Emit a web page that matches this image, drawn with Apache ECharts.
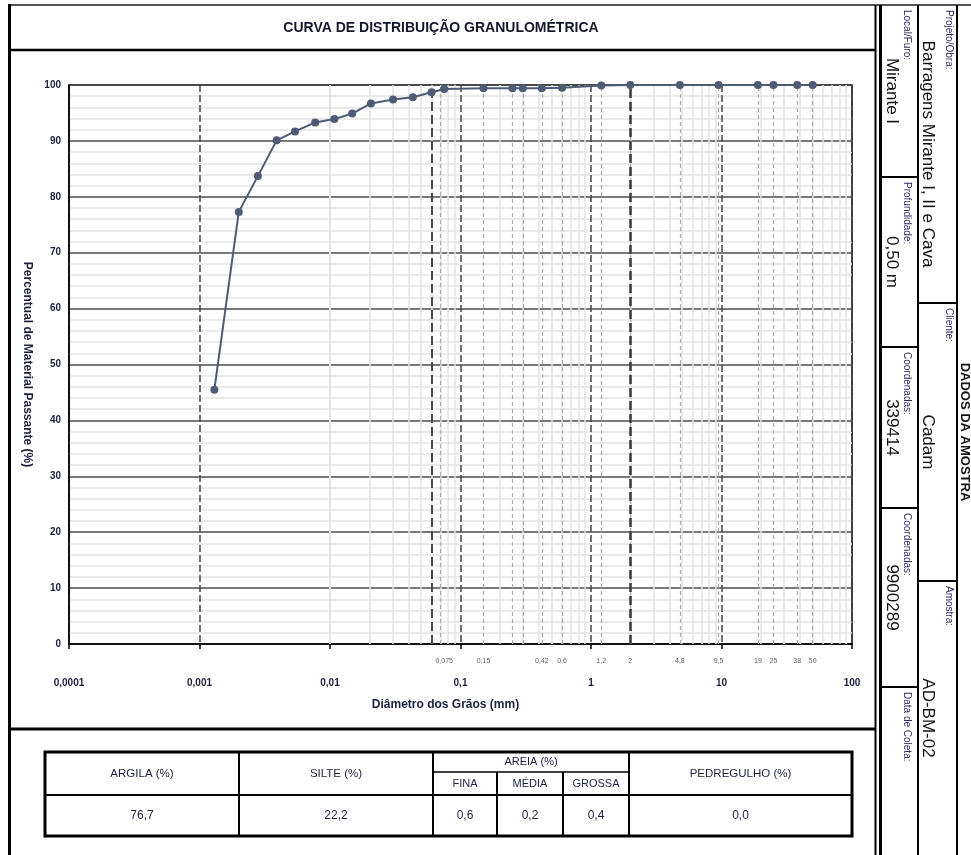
<!DOCTYPE html>
<html>
<head>
<meta charset="utf-8">
<title>Curva de distribuição granulométrica</title>
<script src="https://cdn.jsdelivr.net/npm/echarts@6.0.0/dist/echarts.min.js"></script>
<style>
  html, body { margin: 0; padding: 0; background: #fff; }
  #grafico { width: 971px; height: 855px; }
</style>
</head>
<body>
<div id="grafico"></div>
<script>
// ensaio de granulometria - amostra AD-BM-02
const diametros = [0.0013, 0.0020, 0.0028, 0.0039, 0.0054, 0.0077, 0.0108, 0.0148, 0.0206, 0.0304, 0.0431, 0.060,
  0.075, 0.15, 0.25, 0.30, 0.42, 0.6, 1.2, 2, 4.8, 9.5, 19, 25, 38, 50]
const passante = [45.5, 77.3, 83.7, 90.1, 91.7, 93.3, 93.9, 94.9, 96.7, 97.4, 97.8, 98.7,
  99.3, 99.4, 99.4, 99.4, 99.4, 99.5, 99.9, 100, 100, 100, 100, 100, 100, 100]

// peneiras (linhas tracejadas) e as que recebem rótulo
const peneiras = [0.075, 0.15, 0.25, 0.3, 0.42, 0.6, 1.2, 2, 4.8, 9.5, 19, 25, 38, 50]
const peneirasRotulo = [0.075, 0.15, 0.42, 0.6, 1.2, 2, 4.8, 9.5, 19, 25, 38, 50]
// limites argila / silte / areia / pedregulho
const limites = [0.002, 0.06, 2]

// tabela de frações
const fracoes = ['ARGILA (%)', 'SILTE (%)', 'AREIA (%)', 'PEDREGULHO (%)']
const subAreia = ['FINA', 'MÉDIA', 'GROSSA']
const percentuais = ['76,7', '22,2', '0,6', '0,2', '0,4', '0,0']

// dados da amostra
const camposRotulo = ['Projeto/Obra:', 'Local/Furo:', 'Profundidade:', 'Cliente:', 'Coordenadas:', 'Coordenadas:', 'Amostra:', 'Data de Coleta:']
const camposValor = ['Barragens Mirante I, II e Cava', 'Mirante I', '0,50 m', 'Cadam', '339414', '9900289', 'AD-BM-02', '']

const corTexto = '#1c1f3d'
const fonte = '"Liberation Sans", Arial, sans-serif'

const virgula = (v) => String(parseFloat(Number(v).toPrecision(6))).replace('.', ',')

// grade menor do eixo log (2..9 de cada década)
const linhasMenores = []
for (let e = -4; e < 2; e++) {
  for (let m = 2; m <= 9; m++) linhasMenores.push(m * Math.pow(10, e))
}

// ---- moldura, tabela e bloco lateral ----
const graficos = []
const linha = (x1, y1, x2, y2, w, cor) => graficos.push({
  type: 'line', silent: true, z: 10,
  shape: { x1, y1, x2, y2 },
  style: { stroke: cor || '#000', lineWidth: w }
})
const texto = (x, y, t, opts) => graficos.push(Object.assign({
  type: 'text', silent: true, z: 11, x, y,
  style: Object.assign({
    text: t, fill: corTexto, fontFamily: fonte, fontSize: 12,
    textAlign: 'center', textVerticalAlign: 'middle'
  }, opts.style || {})
}, opts.rotation ? { rotation: opts.rotation } : {}))

// moldura
linha(9, 5, 971, 5, 2, '#555')
linha(9.5, 4, 9.5, 855, 3)
linha(9, 50, 876, 50, 2.5)
linha(9, 729, 876, 729, 3)
linha(875.5, 5, 875.5, 855, 2)
linha(880.5, 5, 880.5, 855, 3)
linha(918, 5, 918, 855, 2)
linha(957, 5, 957, 855, 2)

texto(441, 28, 'CURVA DE DISTRIBUIÇÃO GRANULOMÉTRICA', { style: { fontSize: 14, fontWeight: 'bold', fill: '#14162e' } })

// bloco lateral
const celulas = [
  { col: 1, y0: 5, y1: 303 }, { col: 0, y0: 5, y1: 177 }, { col: 0, y0: 177, y1: 347 }, { col: 1, y0: 303, y1: 581 },
  { col: 0, y0: 347, y1: 508 }, { col: 0, y0: 508, y1: 687 }, { col: 1, y0: 581, y1: 855 }, { col: 0, y0: 687, y1: 855 }
]
const colX = [[882, 918], [918, 957]]
const rotX = [907, 949]
const valX = [891.5, 928]
celulas.forEach((c, i) => {
  if (c.y1 < 855) linha(colX[c.col][0], c.y1, colX[c.col][1], c.y1, 2)
  texto(rotX[c.col], c.y0 + 5, camposRotulo[i], {
    rotation: -Math.PI / 2,
    style: { fontSize: 10, textAlign: 'left', fill: '#2e2a63' }
  })
  if (camposValor[i]) {
    texto(valX[c.col], (c.y0 + c.y1) / 2, camposValor[i], {
      rotation: -Math.PI / 2,
      style: { fontSize: 17, fill: '#111' }
    })
  }
})
texto(965, 432, 'DADOS DA AMOSTRA', { rotation: -Math.PI / 2, style: { fontSize: 13, fontWeight: 'bold', fill: '#111' } })

// tabela de frações
const tabX = [45, 239, 433, 497, 563, 629, 852]
const tabY = [752, 772, 795, 836]
graficos.push({
  type: 'rect', silent: true, z: 10,
  shape: { x: tabX[0], y: tabY[0], width: tabX[6] - tabX[0], height: tabY[3] - tabY[0] },
  style: { fill: 'none', stroke: '#000', lineWidth: 3 }
})
linha(tabX[1], tabY[0], tabX[1], tabY[3], 2)
linha(tabX[2], tabY[0], tabX[2], tabY[3], 2)
linha(tabX[5], tabY[0], tabX[5], tabY[3], 2)
linha(tabX[3], tabY[1], tabX[3], tabY[3], 2)
linha(tabX[4], tabY[1], tabX[4], tabY[3], 2)
linha(tabX[0], tabY[2], tabX[6], tabY[2], 2)
linha(tabX[2], tabY[1], tabX[5], tabY[1], 1.5)

const meio = (a, b) => (a + b) / 2
const cabY = meio(tabY[0], tabY[2])
texto(meio(tabX[0], tabX[1]), cabY, fracoes[0], { style: { fontSize: 11.5 } })
texto(meio(tabX[1], tabX[2]), cabY, fracoes[1], { style: { fontSize: 11.5 } })
texto(meio(tabX[2], tabX[5]), meio(tabY[0], tabY[1]), fracoes[2], { style: { fontSize: 11 } })
texto(meio(tabX[5], tabX[6]), cabY, fracoes[3], { style: { fontSize: 11.5 } })
subAreia.forEach((s, i) => {
  texto(meio(tabX[2 + i], tabX[3 + i]), meio(tabY[1], tabY[2]), s, { style: { fontSize: 11 } })
})
const valColX = [meio(tabX[0], tabX[1]), meio(tabX[1], tabX[2]), meio(tabX[2], tabX[3]),
  meio(tabX[3], tabX[4]), meio(tabX[4], tabX[5]), meio(tabX[5], tabX[6])]
percentuais.forEach((p, i) => {
  texto(valColX[i], meio(tabY[2], tabY[3]), p, { style: { fontSize: 12 } })
})

// ---- gráfico ----
const chart = echarts.init(document.getElementById('grafico'))

const option = {
  animation: false,
  grid: {
    left: 69, top: 85, right: 119, bottom: 211,
    show: true, borderColor: '#000', borderWidth: 1.5, backgroundColor: '#fff'
  },
  xAxis: {
    type: 'log', logBase: 10, min: 0.0001, max: 100, splitNumber: 6,
    name: 'Diâmetro dos Grãos (mm)', nameLocation: 'middle', nameGap: 55,
    nameTextStyle: { fontFamily: fonte, fontWeight: 'bold', fontSize: 12, color: corTexto, padding: [0, 30, 0, 0] },
    axisLine: { lineStyle: { color: '#000', width: 1.5 } },
    axisTick: { show: true, length: 5, lineStyle: { color: '#000', width: 1.5 } },
    axisLabel: {
      margin: 34, fontFamily: fonte, fontWeight: 'bold', fontSize: 10, color: corTexto,
      formatter: (v) => virgula(v)
    },
    splitLine: { show: true, lineStyle: { color: '#444', width: 1.5, type: [7, 3] } }
  },
  yAxis: {
    type: 'value', min: 0, max: 100, interval: 10,
    name: 'Percentual de Material Passante (%)', nameLocation: 'middle', nameGap: 36, nameRotate: -90,
    nameTextStyle: { fontFamily: fonte, fontWeight: 'bold', fontSize: 12, color: corTexto },
    axisLine: { show: true, lineStyle: { color: '#000', width: 1.5 } },
    axisTick: { show: false },
    axisLabel: { margin: 8, fontFamily: fonte, fontWeight: 'bold', fontSize: 10, color: corTexto },
    splitLine: { show: true, lineStyle: { color: '#4d4d4d', width: 1.5 } },
    minorTick: { show: false, splitNumber: 5 },
    minorSplitLine: { show: true, lineStyle: { color: '#e4e4e4', width: 1.5 } }
  },
  series: [
    {
      name: 'peneiras', type: 'scatter', z: 1, silent: true,
      data: peneirasRotulo.map(v => [v, 0]),
      symbolSize: 1, itemStyle: { color: 'rgba(0,0,0,0)' },
      emphasis: { disabled: true },
      label: {
        show: true, position: 'bottom', distance: 13,
        fontFamily: fonte, fontSize: 7, color: '#333',
        formatter: (p) => virgula(p.value[0])
      },
      markLine: {
        z: 1, silent: true, symbol: ['none', 'none'], label: { show: false }, animation: false,
        emphasis: { disabled: true },
        data: [
          ...linhasMenores.map(v => ({ xAxis: v, lineStyle: { color: '#e3e3e3', width: 1.5, type: 'solid' } })),
          ...peneiras.map(v => ({ xAxis: v, lineStyle: { color: '#adadad', width: 1.2, type: [4, 3] } })),
          ...limites.map((v, i) => ({ xAxis: v, lineStyle: { color: '#383838', width: i === 2 ? 2.5 : 1.8, type: [9, 4] } }))
        ]
      }
    },
    {
      name: 'Passante', type: 'line', z: 6,
      data: diametros.map((d, i) => [d, passante[i]]),
      symbol: 'circle', symbolSize: 8,
      lineStyle: { color: '#4d5b74', width: 2 },
      itemStyle: { color: '#4d5b74' }
    }
  ],
  graphic: graficos
}

chart.setOption(option)
</script>
</body>
</html>
